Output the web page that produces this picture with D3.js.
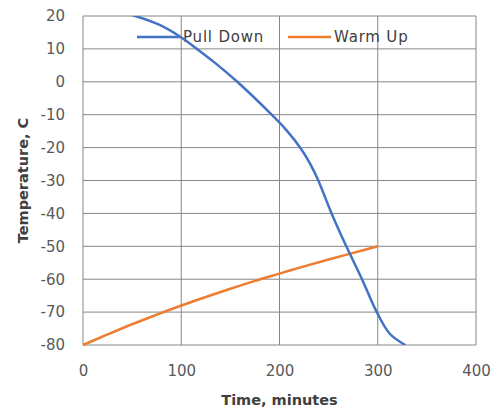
<!DOCTYPE html>
<html>
<head>
<meta charset="utf-8">
<script src="https://cdn.jsdelivr.net/npm/d3@7"></script>
<style>
  body { margin: 0; background: #fff; }
  text { font-family: "DejaVu Sans", sans-serif; }
</style>
</head>
<body>
<svg id="chart" width="495" height="411"></svg>
<script>
// time (minutes) and temperature (C)
var pullTime = [0, 25, 53, 78, 99, 116, 135, 157, 192, 207, 222, 231, 239.5, 253, 268, 284, 292, 299, 312, 328];
var pullTemp = [23.2, 22.1, 20, 17.3, 13.7, 10, 5.6, 0, -10, -14.7, -20.4, -24.8, -30, -40, -50, -60, -65.5, -70, -76.5, -80];
var warmTime = [0, 25, 50, 75, 100, 125, 150, 175, 200, 225, 250, 275, 300];
var warmTemp = [-80, -76.8, -73.7, -70.8, -68, -65.4, -62.9, -60.5, -58.3, -56.1, -54, -52, -50];
var xTicks = [0, 100, 200, 300, 400];
var yTicks = [20, 10, 0, -10, -20, -30, -40, -50, -60, -70, -80];
var seriesNames = ["Pull Down", "Warm Up"];
var seriesColors = ["#4472C4", "#ED7D31"];

var plotLeft = 83, plotRight = 476, plotTop = 16, plotBottom = 345;
var svg = d3.select("#chart");

var xScale = d3.scaleLinear().domain([0, 400]).range([plotLeft, plotRight]);
var yScale = d3.scaleLinear().domain([-80, 20]).range([plotBottom, plotTop]);

// clip so the pull down curve stops at the top of the plot
svg.append("clipPath").attr("id", "plotclip")
  .append("rect")
  .attr("x", plotLeft).attr("y", plotTop)
  .attr("width", plotRight - plotLeft).attr("height", plotBottom - plotTop);

// gridlines
svg.append("g").selectAll("line").data(yTicks).enter().append("line")
  .attr("x1", plotLeft).attr("x2", plotRight)
  .attr("y1", function(d) { return yScale(d); })
  .attr("y2", function(d) { return yScale(d); })
  .attr("stroke", "#868686").attr("stroke-width", 1);
svg.append("g").selectAll("line").data(xTicks).enter().append("line")
  .attr("y1", plotTop).attr("y2", plotBottom)
  .attr("x1", function(d) { return xScale(d); })
  .attr("x2", function(d) { return xScale(d); })
  .attr("stroke", "#868686").attr("stroke-width", 1);

// axes (labels only), plain hyphen for negatives
var fmt = function(d) { return String(d); };
var xAxis = svg.append("g")
  .attr("transform", "translate(0," + plotBottom + ")")
  .call(d3.axisBottom(xScale).tickValues(xTicks).tickFormat(fmt).tickSize(0).tickPadding(20));
var yAxis = svg.append("g")
  .attr("transform", "translate(" + plotLeft + ",0)")
  .call(d3.axisLeft(yScale).tickValues(yTicks).tickFormat(fmt).tickSize(0).tickPadding(18));
[xAxis, yAxis].forEach(function(a) {
  a.select(".domain").remove();
  a.selectAll("text")
    .style("font-family", "DejaVu Sans, sans-serif")
    .style("font-size", "15px")
    .attr("fill", "#595959");
});

// axis titles
svg.append("text")
  .attr("x", (plotLeft + plotRight) / 2).attr("y", 405)
  .style("text-anchor", "middle")
  .style("font-size", "14.5px").style("font-weight", "bold")
  .attr("fill", "#404040")
  .text("Time, minutes");
svg.append("text")
  .attr("transform", "translate(28," + ((plotTop + plotBottom) / 2) + ") rotate(-90)")
  .style("text-anchor", "middle")
  .style("font-size", "14.5px").style("font-weight", "bold")
  .attr("fill", "#404040")
  .text("Temperature, C");

// lines
var line = d3.line()
  .x(function(d) { return xScale(d[0]); })
  .y(function(d) { return yScale(d[1]); })
  .curve(d3.curveCatmullRom.alpha(0.5));

var pullData = d3.zip(pullTime, pullTemp);
var warmData = d3.zip(warmTime, warmTemp);

svg.append("path").datum(warmData)
  .attr("d", line)
  .attr("fill", "none")
  .attr("stroke", seriesColors[1]).attr("stroke-width", 2.5);

// legend
var legendX = [137, 288];
var legend = svg.append("g").selectAll("g").data(seriesNames).enter().append("g")
  .attr("transform", function(d, i) { return "translate(" + legendX[i] + ",37)"; });
legend.append("line")
  .attr("x1", 0).attr("x2", 43).attr("y1", 0).attr("y2", 0)
  .attr("stroke", function(d, i) { return seriesColors[i]; })
  .attr("stroke-width", 2.5);
legend.append("text")
  .attr("x", 46).attr("y", 5)
  .style("font-size", "15px").style("letter-spacing", "0.8px")
  .attr("fill", "#404040")
  .text(function(d) { return d; });

svg.append("path").datum(pullData)
  .attr("clip-path", "url(#plotclip)")
  .attr("d", line)
  .attr("fill", "none")
  .attr("stroke", seriesColors[0]).attr("stroke-width", 2.5);
</script>
</body>
</html>
